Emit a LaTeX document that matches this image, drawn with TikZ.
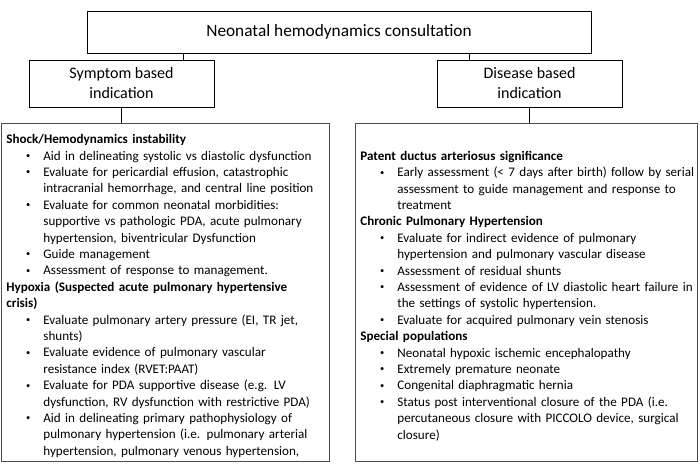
\documentclass[tikz,border=0pt]{standalone}
\usepackage{fontspec}
\usepackage{graphicx}
\setmainfont{Carlito}
\tikzset{
  headbox/.style={draw, line width=0.8pt, align=center, inner sep=0pt,
    font=\fontsize{16}{20}\selectfont},
  listbox/.style={draw=black!70, line width=0.8pt, anchor=north west,
    inner xsep=5pt, inner ysep=0pt, minimum height=338pt, align=left,
    font=\fontsize{13.1}{16.4}\selectfont},
}
% bullet line with hanging indent
\newcommand{\itm}{\par\rightskip=-20pt plus 1fil\hangindent=37pt\hangafter=0\noindent
  \llap{\raisebox{1.6pt}{\scalebox{0.65}{\textbullet}}\hspace{13pt}}}
\newcommand{\hdr}[1]{\par\noindent\textbf{#1}}
\newcommand{\brk}{\hfil\break}
\begin{document}
\begin{tikzpicture}[x=1pt,y=-1pt]
\useasboundingbox (0,0) rectangle (700,471);

\node[headbox, minimum width=504pt, minimum height=42pt, font=\fontsize{17.3}{20}\selectfont] (consult) at (339,32) {Neonatal hemodynamics consultation};
\node[headbox, minimum width=185pt, minimum height=47pt] (symptom) at (121.5,83.5) {Symptom based\\indication};
\node[headbox, minimum width=185pt, minimum height=47pt] (disease) at (529.5,83.5) {Disease based\\indication};

\node[listbox, text width=318pt] (symlist) at (1,123) {%
\hdr{Shock/Hemodynamics instability}
\itm Aid in delineating systolic vs diastolic dysfunction
\itm Evaluate for pericardial effusion, catastrophic\brk intracranial hemorrhage, and central line position
\itm Evaluate for common neonatal morbidities:\brk supportive vs pathologic PDA, acute pulmonary\brk hypertension, biventricular Dysfunction
\itm Guide management
\itm Assessment of response to management.
\hdr{Hypoxia (Suspected acute pulmonary hypertensive\brk crisis)}
\itm Evaluate pulmonary artery pressure (EI, TR jet,\brk shunts)
\itm Evaluate evidence of pulmonary vascular\brk resistance index (RVET:PAAT)
\itm Evaluate for PDA supportive disease (e.g. LV\brk dysfunction, RV dysfunction with restrictive PDA)
\itm Aid in delineating primary pathophysiology of\brk pulmonary hypertension (i.e. pulmonary arterial\brk hypertension, pulmonary venous hypertension,\par
\vspace{8pt}};

\node[listbox, text width=332pt] (dislist) at (355,123) {%
\hdr{Patent ductus arteriosus significance}
\itm Early assessment (< 7 days after birth) follow by serial\brk assessment to guide management and response to\brk treatment
\hdr{Chronic Pulmonary Hypertension}
\itm Evaluate for indirect evidence of pulmonary\brk hypertension and pulmonary vascular disease
\itm Assessment of residual shunts
\itm Assessment of evidence of LV diastolic heart failure in\brk the settings of systolic hypertension.
\itm Evaluate for acquired pulmonary vein stenosis
\hdr{Special populations}
\itm Neonatal hypoxic ischemic encephalopathy
\itm Extremely premature neonate
\itm Congenital diaphragmatic hernia
\itm Status post interventional closure of the PDA (i.e.\brk percutaneous closure with PICCOLO device, surgical\brk closure)\par};

\coordinate (symtap) at ([xshift=-31pt]symptom.north east);
\coordinate (distap) at ([xshift=33pt]disease.north west);
\draw (symtap) -- (symtap |- consult.south);
\draw (distap) -- (distap |- consult.south);
\draw (symptom.south) -- (symptom.south |- symlist.north);
\draw (disease.south) -- (disease.south |- dislist.north);
\end{tikzpicture}
\end{document}
